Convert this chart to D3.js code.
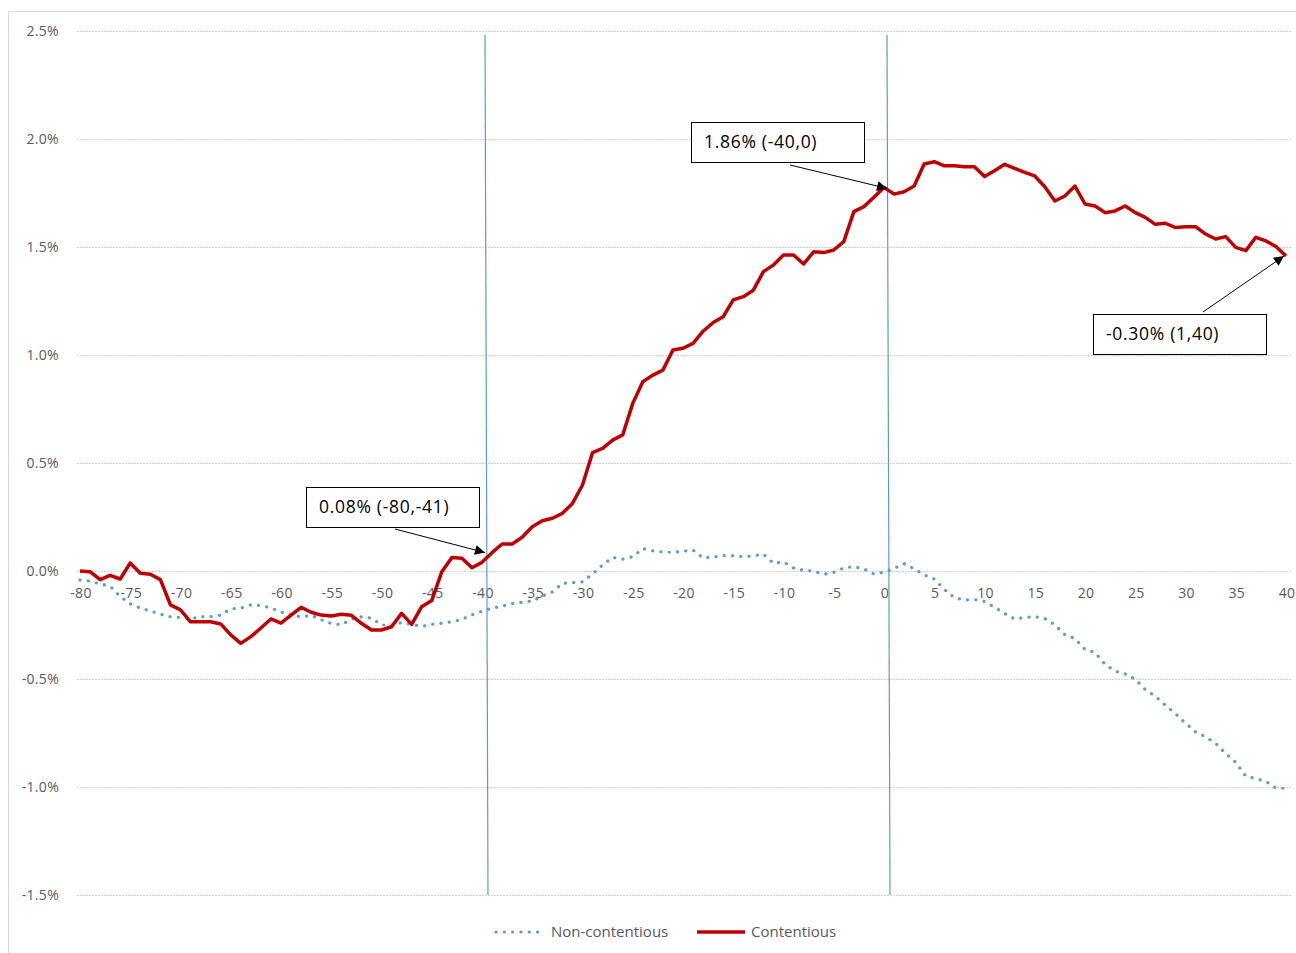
<!DOCTYPE html>
<html>
<head>
<meta charset="utf-8">
<script src="https://cdn.jsdelivr.net/npm/d3@7/dist/d3.min.js"></script>
<style>
    body { margin: 0; background: #fff; }
    svg { display: block; }
    .tick-label { font-family: "Open Sans", sans-serif; font-size: 14px; letter-spacing: 0.3px; fill: #595959; }
    .note-text { font-family: "Open Sans", sans-serif; font-size: 17.5px; letter-spacing: 0.7px; fill: #000; }
    .legend-text { font-family: "Open Sans", sans-serif; font-size: 15px; fill: #595959; }
</style>
</head>
<body>
<svg id="canvas" width="1296" height="953"></svg>
<script>
// event days, -80 .. 40
var days = d3.range(-80, 41);

// cumulative return in %
var contentious = [
    0.00, -0.003, -0.04, -0.02, -0.037, 0.037, -0.01, -0.015, -0.04, -0.157,
    -0.18, -0.235, -0.235, -0.235, -0.245, -0.296, -0.335, -0.304, -0.264, -0.222,
    -0.241, -0.204, -0.168, -0.191, -0.204, -0.208, -0.20, -0.205, -0.242, -0.273,
    -0.273, -0.258, -0.196, -0.247, -0.165, -0.137, -0.003, 0.062, 0.059, 0.015,
    0.04, 0.085, 0.125, 0.125, 0.156, 0.205, 0.233, 0.244, 0.267, 0.313,
    0.398, 0.548, 0.568, 0.606, 0.63, 0.776, 0.876, 0.907, 0.93, 1.023,
    1.031, 1.054, 1.11, 1.15, 1.177, 1.255, 1.27, 1.30, 1.386, 1.417,
    1.463, 1.463, 1.421, 1.478, 1.474, 1.486, 1.525, 1.664, 1.687, 1.73,
    1.776, 1.745, 1.756, 1.782, 1.884, 1.895, 1.876, 1.876, 1.872, 1.872,
    1.826, 1.853, 1.883, 1.864, 1.846, 1.829, 1.779, 1.713, 1.736, 1.782,
    1.699, 1.69, 1.659, 1.667, 1.69, 1.659, 1.637, 1.605, 1.61, 1.59,
    1.594, 1.594, 1.56, 1.537, 1.548, 1.498, 1.483, 1.545, 1.528, 1.502,
    1.458
];

var nonContentious = [
    -0.042, -0.047, -0.06, -0.07, -0.118, -0.152, -0.172, -0.185, -0.20, -0.212,
    -0.216, -0.222, -0.211, -0.211, -0.204, -0.175, -0.172, -0.157, -0.16, -0.171,
    -0.19, -0.202, -0.213, -0.205, -0.226, -0.243, -0.249, -0.223, -0.212, -0.218,
    -0.25, -0.25, -0.239, -0.247, -0.257, -0.247, -0.242, -0.235, -0.224, -0.203,
    -0.186, -0.172, -0.163, -0.151, -0.144, -0.139, -0.116, -0.097, -0.057, -0.054,
    -0.05, -0.014, 0.028, 0.063, 0.055, 0.066, 0.104, 0.093, 0.088, 0.086,
    0.091, 0.097, 0.06, 0.064, 0.071, 0.071, 0.066, 0.07, 0.078, 0.036,
    0.042, 0.014, 0.003, -0.001, -0.015, -0.006, 0.014, 0.02, 0.01, -0.014,
    -0.005, 0.012, 0.034, 0.01, -0.018, -0.037, -0.085, -0.124, -0.134, -0.132,
    -0.141, -0.168, -0.197, -0.222, -0.215, -0.211, -0.22, -0.249, -0.295, -0.313,
    -0.363, -0.378, -0.432, -0.464, -0.477, -0.50, -0.549, -0.58, -0.622, -0.66,
    -0.705, -0.745, -0.768, -0.798, -0.845, -0.886, -0.95, -0.961, -0.974, -1.005,
    -1.006
];

var yTicks = [-1.5, -1.0, -0.5, 0.0, 0.5, 1.0, 1.5, 2.0, 2.5];
var xTicks = [-80, -75, -70, -65, -60, -55, -50, -45, -40, -35, -30, -25, -20,
    -15, -10, -5, 0, 5, 10, 15, 20, 25, 30, 35, 40];

// text boxes with arrows pointing at the red line
var notes = [
    {text: "0.08% (-80,-41)", day: -40, value: 0.09},
    {text: "1.86% (-40,0)", day: 0, value: 1.776},
    {text: "-0.30% (1,40)", day: 40, value: 1.458}
];
var markerDays = [-40, 0];

var svg = d3.select("#canvas");

var x = d3.scaleLinear().domain([-80, 40]).range([80, 1286]);
var y = d3.scaleLinear().domain([-1.5, 2.5]).range([895, 31]);

// chart area border
svg.append("rect")
    .attr("x", 8.5).attr("y", 11.5)
    .attr("width", 1300).attr("height", 960)
    .attr("fill", "none")
    .attr("stroke", "#d9d9d9");

// gridlines
svg.append("g").selectAll("line")
    .data(yTicks)
    .enter().append("line")
    .attr("x1", 77).attr("x2", 1291)
    .attr("y1", function (d) { return Math.round(y(d)) + 0.5; })
    .attr("y2", function (d) { return Math.round(y(d)) + 0.5; })
    .attr("stroke", "#cfcfcf")
    .attr("stroke-dasharray", "2,1");

svg.append("g").selectAll("text")
    .data(yTicks)
    .enter().append("text")
    .attr("class", "tick-label")
    .attr("x", 59)
    .attr("y", function (d) { return y(d) + 5; })
    .attr("text-anchor", "end")
    .text(function (d) { return d.toFixed(1) + "%"; });

svg.append("g").selectAll("text")
    .data(xTicks)
    .enter().append("text")
    .attr("class", "tick-label")
    .attr("x", function (d) { return x(d) + 1; })
    .attr("y", y(0) + 27)
    .attr("text-anchor", "middle")
    .text(function (d) { return d; });

// vertical marker lines (drawn shapes, slightly slanted in the original)
svg.append("g").selectAll("line")
    .data(markerDays)
    .enter().append("line")
    .attr("x1", function (d) { return x(d) + 3; })
    .attr("y1", 35)
    .attr("x2", function (d) { return x(d) + 6; })
    .attr("y2", 895)
    .attr("stroke", "#5b9bd5")
    .attr("stroke-width", 1.2);

var line = d3.line()
    .x(function (d) { return x(d[0]); })
    .y(function (d) { return y(d[1]); });

svg.append("path")
    .datum(d3.zip(days, nonContentious))
    .attr("d", line)
    .attr("fill", "none")
    .attr("stroke", "#5b9bd5")
    .attr("stroke-width", 3.2)
    .attr("stroke-linecap", "round")
    .attr("stroke-dasharray", "0.1,8.2");

svg.append("path")
    .datum(d3.zip(days, contentious))
    .attr("d", line)
    .attr("fill", "none")
    .attr("stroke", "#c00000")
    .attr("stroke-width", 3.5)
    .attr("stroke-linejoin", "round");

// annotations
svg.append("defs").append("marker")
    .attr("id", "arrow")
    .attr("viewBox", "0 0 10 10")
    .attr("refX", 10).attr("refY", 5)
    .attr("markerWidth", 14).attr("markerHeight", 10)
    .attr("markerUnits", "userSpaceOnUse")
    .attr("orient", "auto")
    .append("path")
    .attr("d", "M0,0L10,5L0,10z")
    .attr("fill", "#000");

var boxes = [
    {x: 306, y: 487, from: [395, 529]},
    {x: 691, y: 122, from: [790, 165]},
    {x: 1093, y: 314, from: [1203, 312]}
];

notes.forEach(function (n, i) {
    var b = boxes[i];
    var g = svg.append("g").attr("class", "note");
    g.append("line")
        .attr("x1", b.from[0]).attr("y1", b.from[1])
        .attr("x2", x(n.day) + (i === 2 ? -2 : 3))
        .attr("y2", y(n.value) + (i === 2 ? 0 : 1))
        .attr("stroke", "#000")
        .attr("stroke-width", 1)
        .attr("marker-end", "url(#arrow)");
    g.append("rect")
        .attr("x", b.x + 0.5).attr("y", b.y + 0.5)
        .attr("width", 173).attr("height", 40)
        .attr("fill", "#fff")
        .attr("stroke", "#000")
        .attr("stroke-width", 1);
    g.append("text")
        .attr("class", "note-text")
        .attr("x", b.x + 13)
        .attr("y", b.y + 26)
        .text(n.text);
});

// legend
var legend = svg.append("g").attr("class", "legend");
legend.append("line")
    .attr("x1", 496).attr("x2", 541)
    .attr("y1", 932).attr("y2", 932)
    .attr("stroke", "#5b9bd5")
    .attr("stroke-width", 3.2)
    .attr("stroke-linecap", "round")
    .attr("stroke-dasharray", "0.1,8.2");
legend.append("text")
    .attr("class", "legend-text")
    .attr("x", 551).attr("y", 937)
    .text("Non-contentious");
legend.append("line")
    .attr("x1", 697).attr("x2", 745)
    .attr("y1", 932).attr("y2", 932)
    .attr("stroke", "#c00000")
    .attr("stroke-width", 3.5);
legend.append("text")
    .attr("class", "legend-text")
    .attr("x", 751).attr("y", 937)
    .text("Contentious");
</script>
</body>
</html>
